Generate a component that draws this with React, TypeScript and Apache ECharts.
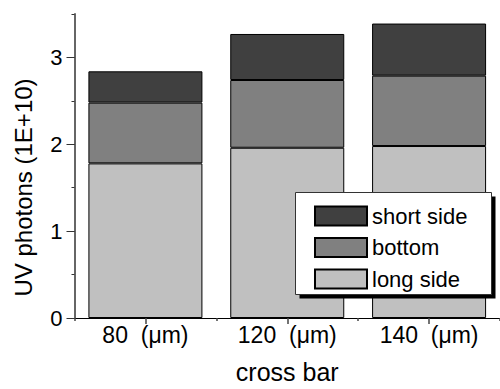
import React, { useEffect, useRef } from "react";
import * as echarts from "echarts";

const categories = ["80  (μm)", "120  (μm)", "140  (μm)"];
const longSide = [1.78, 1.96, 1.98];
const bottom = [0.7, 0.78, 0.81];
const shortSide = [0.36, 0.53, 0.6];
const yTickValues = [0, 1, 2, 3];

const FONT = "Arial, 'Liberation Sans', Helvetica, sans-serif";

export default function App() {
  const ref = useRef<HTMLDivElement>(null);
  useEffect(() => {
    if (!ref.current) return;
    const chart = echarts.init(ref.current, undefined, { renderer: "svg" });
    const barCommon = {
      type: "bar",
      stack: "total",
      barWidth: 114,
      xAxisIndex: 0,
      yAxisIndex: 0,
    };
    chart.setOption({
      animation: false,
      backgroundColor: "#fff",
      grid: { left: 74.5, right: 0, top: 14, bottom: 64, containLabel: false },
      xAxis: [
        {
          type: "category",
          data: categories,
          axisLine: { show: true, lineStyle: { color: "#000", width: 1.2 } },
          axisTick: { show: true, alignWithLabel: true, length: 6, lineStyle: { color: "#444", width: 1.5 } },
          axisLabel: { color: "#000", fontSize: 23, fontFamily: FONT, margin: 5 },
          name: "cross bar",
          nameLocation: "middle",
          nameGap: 41,
          nameTextStyle: { color: "#000", fontSize: 25, fontFamily: FONT },
          splitLine: { show: false },
        },
        {
          type: "category",
          data: categories,
          position: "bottom",
          axisLine: { show: false },
          axisTick: { show: true, alignWithLabel: false, length: 3, lineStyle: { color: "#444", width: 1.5 } },
          axisLabel: { show: false },
          splitLine: { show: false },
        },
      ],
      yAxis: [
        {
          type: "value",
          min: 0,
          max: 3.5,
          interval: 1,
          axisLine: { show: true, lineStyle: { color: "#666", width: 2 } },
          axisTick: { show: true, length: 8, customValues: yTickValues, lineStyle: { color: "#333", width: 1 } },
          axisLabel: { color: "#000", fontSize: 22, fontFamily: FONT, margin: 12, customValues: yTickValues },
          splitLine: { show: false },
        },
        {
          type: "value",
          min: 0,
          max: 3.5,
          interval: 0.5,
          position: "left",
          axisLine: { show: false },
          axisTick: { show: true, length: 3, lineStyle: { color: "#333", width: 1 } },
          axisLabel: { show: false },
          splitLine: { show: false },
        },
      ],
      legend: {
        orient: "vertical",
        left: 314,
        top: 205,
        padding: 0,
        itemWidth: 52,
        itemHeight: 19,
        itemGap: 9.5,
        icon: "rect",
        z: 10,
        data: ["short side", "bottom", "long side"],
        textStyle: { color: "#000", fontSize: 22, fontFamily: FONT },
      },
      graphic: [
        {
          type: "rect",
          z: 5,
          shape: { x: 299.5, y: 196.5, width: 196, height: 102 },
          style: { fill: "#000" },
        },
        {
          type: "rect",
          z: 6,
          shape: { x: 295.5, y: 192.5, width: 196, height: 102 },
          style: { fill: "#fff", stroke: "#333", lineWidth: 1 },
        },
        {
          type: "text",
          z: 6,
          x: 23.5,
          y: 187.5,
          rotation: Math.PI / 2,
          style: {
            text: "UV photons (1E+10)",
            fill: "#000",
            fontSize: 24,
            fontFamily: FONT,
            align: "center",
            verticalAlign: "middle",
          },
        },
      ],
      series: [
        {
          ...barCommon,
          name: "long side",
          data: longSide,
          itemStyle: { color: "#c0c0c0", borderColor: "#000", borderWidth: 1 },
        },
        {
          ...barCommon,
          name: "bottom",
          data: bottom,
          itemStyle: { color: "#808080", borderColor: "#000", borderWidth: 1 },
        },
        {
          ...barCommon,
          name: "short side",
          data: shortSide,
          itemStyle: { color: "#404040", borderColor: "#000", borderWidth: 1 },
        },
      ],
    });
    return () => chart.dispose();
  }, []);
  return (
    <div
      ref={ref}
      style={{ position: "absolute", left: 0, top: 0, width: 500, height: 389 }}
    />
  );
}
